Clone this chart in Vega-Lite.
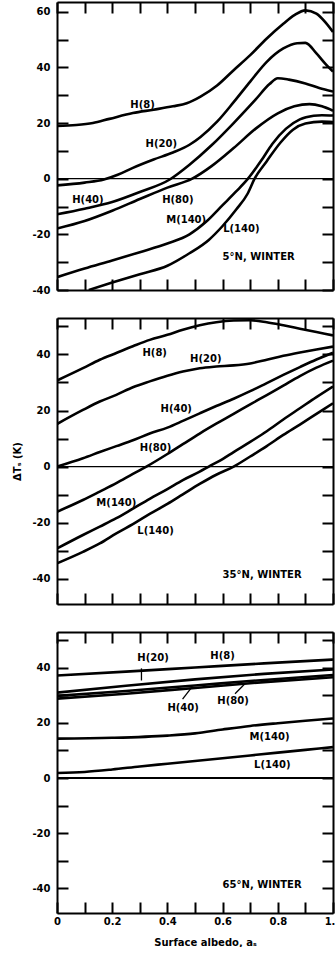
{
  "$schema": "https://vega.github.io/schema/vega-lite/v6.json",
  "background": "white",
  "padding": {"left": 12, "top": 1, "right": 0, "bottom": 0},
  "spacing": 28,
  "bounds": "flush",
  "config": {
    "view": {"stroke": null},
    "font": "DejaVu Sans",
    "axis": {
      "tickSize": -11, "tickWidth": 2, "tickColor": "black",
      "domainColor": "black", "domainWidth": 2, "grid": false,
      "labelFont": "DejaVu Sans", "labelFontWeight": "bold", "labelFontSize": 10, "labelColor": "black",
      "labelFlush": false, "labelOverlap": false,
      "titleFont": "DejaVu Sans", "titleFontWeight": "bold", "titleFontSize": 10, "titleColor": "black"
    }
  },
  "datasets": {
    "curves": [
      {"panel":"a","series":"H(8)","x":0,"y":19.0},{"panel":"a","series":"H(8)","x":0.07,"y":19.3},{"panel":"a","series":"H(8)","x":0.13,"y":20.0},{"panel":"a","series":"H(8)","x":0.19,"y":21.5},{"panel":"a","series":"H(8)","x":0.275,"y":23.6},{"panel":"a","series":"H(8)","x":0.35,"y":24.8},{"panel":"a","series":"H(8)","x":0.42,"y":26.0},{"panel":"a","series":"H(8)","x":0.47,"y":27.1},{"panel":"a","series":"H(8)","x":0.52,"y":29.5},{"panel":"a","series":"H(8)","x":0.58,"y":33.5},{"panel":"a","series":"H(8)","x":0.64,"y":39.0},{"panel":"a","series":"H(8)","x":0.70,"y":44.4},{"panel":"a","series":"H(8)","x":0.76,"y":50.4},{"panel":"a","series":"H(8)","x":0.82,"y":55.7},{"panel":"a","series":"H(8)","x":0.86,"y":58.8},{"panel":"a","series":"H(8)","x":0.90,"y":60.5},{"panel":"a","series":"H(8)","x":0.94,"y":59.3},{"panel":"a","series":"H(8)","x":0.975,"y":55.9},{"panel":"a","series":"H(8)","x":1.0,"y":52.7},
      {"panel":"a","series":"H(20)","x":0,"y":-2.4},{"panel":"a","series":"H(20)","x":0.1,"y":-1.4},{"panel":"a","series":"H(20)","x":0.17,"y":-0.3},{"panel":"a","series":"H(20)","x":0.22,"y":1.4},{"panel":"a","series":"H(20)","x":0.275,"y":3.9},{"panel":"a","series":"H(20)","x":0.35,"y":6.9},{"panel":"a","series":"H(20)","x":0.42,"y":9.4},{"panel":"a","series":"H(20)","x":0.48,"y":12.2},{"panel":"a","series":"H(20)","x":0.52,"y":15.0},{"panel":"a","series":"H(20)","x":0.58,"y":20.5},{"panel":"a","series":"H(20)","x":0.64,"y":27.5},{"panel":"a","series":"H(20)","x":0.70,"y":34.9},{"panel":"a","series":"H(20)","x":0.76,"y":42.0},{"panel":"a","series":"H(20)","x":0.82,"y":46.8},{"panel":"a","series":"H(20)","x":0.87,"y":48.7},{"panel":"a","series":"H(20)","x":0.90,"y":48.8},{"panel":"a","series":"H(20)","x":0.94,"y":45.0},{"panel":"a","series":"H(20)","x":0.975,"y":41.0},{"panel":"a","series":"H(20)","x":1.0,"y":38.5},
      {"panel":"a","series":"H(40)","x":0,"y":-12.8},{"panel":"a","series":"H(40)","x":0.1,"y":-10.8},{"panel":"a","series":"H(40)","x":0.2,"y":-8.4},{"panel":"a","series":"H(40)","x":0.3,"y":-4.8},{"panel":"a","series":"H(40)","x":0.41,"y":-0.2},{"panel":"a","series":"H(40)","x":0.48,"y":5.0},{"panel":"a","series":"H(40)","x":0.56,"y":12.0},{"panel":"a","series":"H(40)","x":0.64,"y":20.0},{"panel":"a","series":"H(40)","x":0.72,"y":28.5},{"panel":"a","series":"H(40)","x":0.77,"y":34.0},{"panel":"a","series":"H(40)","x":0.80,"y":36.1},{"panel":"a","series":"H(40)","x":0.84,"y":35.6},{"panel":"a","series":"H(40)","x":0.90,"y":34.2},{"panel":"a","series":"H(40)","x":0.95,"y":32.6},{"panel":"a","series":"H(40)","x":1.0,"y":31.3},
      {"panel":"a","series":"H(80)","x":0,"y":-17.9},{"panel":"a","series":"H(80)","x":0.1,"y":-15.2},{"panel":"a","series":"H(80)","x":0.2,"y":-11.5},{"panel":"a","series":"H(80)","x":0.3,"y":-7.3},{"panel":"a","series":"H(80)","x":0.4,"y":-3.2},{"panel":"a","series":"H(80)","x":0.49,"y":0.0},{"panel":"a","series":"H(80)","x":0.56,"y":4.5},{"panel":"a","series":"H(80)","x":0.64,"y":11.0},{"panel":"a","series":"H(80)","x":0.72,"y":18.0},{"panel":"a","series":"H(80)","x":0.80,"y":23.5},{"panel":"a","series":"H(80)","x":0.86,"y":26.0},{"panel":"a","series":"H(80)","x":0.915,"y":26.8},{"panel":"a","series":"H(80)","x":0.96,"y":26.0},{"panel":"a","series":"H(80)","x":1.0,"y":24.4},
      {"panel":"a","series":"M(140)","x":0,"y":-35.4},{"panel":"a","series":"M(140)","x":0.1,"y":-32.3},{"panel":"a","series":"M(140)","x":0.2,"y":-29.4},{"panel":"a","series":"M(140)","x":0.3,"y":-26.4},{"panel":"a","series":"M(140)","x":0.4,"y":-23.3},{"panel":"a","series":"M(140)","x":0.48,"y":-20.0},{"panel":"a","series":"M(140)","x":0.54,"y":-15.5},{"panel":"a","series":"M(140)","x":0.6,"y":-9.5},{"panel":"a","series":"M(140)","x":0.65,"y":-4.5},{"panel":"a","series":"M(140)","x":0.692,"y":0.0},{"panel":"a","series":"M(140)","x":0.74,"y":6.5},{"panel":"a","series":"M(140)","x":0.78,"y":12.5},{"panel":"a","series":"M(140)","x":0.83,"y":18.0},{"panel":"a","series":"M(140)","x":0.88,"y":21.3},{"panel":"a","series":"M(140)","x":0.93,"y":22.6},{"panel":"a","series":"M(140)","x":0.96,"y":22.8},{"panel":"a","series":"M(140)","x":1.0,"y":22.7},
      {"panel":"a","series":"L(140)","x":0.115,"y":-40.0},{"panel":"a","series":"L(140)","x":0.2,"y":-37.3},{"panel":"a","series":"L(140)","x":0.3,"y":-34.3},{"panel":"a","series":"L(140)","x":0.4,"y":-31.3},{"panel":"a","series":"L(140)","x":0.48,"y":-26.8},{"panel":"a","series":"L(140)","x":0.55,"y":-22.0},{"panel":"a","series":"L(140)","x":0.6,"y":-17.0},{"panel":"a","series":"L(140)","x":0.65,"y":-11.0},{"panel":"a","series":"L(140)","x":0.69,"y":-5.5},{"panel":"a","series":"L(140)","x":0.716,"y":0.0},{"panel":"a","series":"L(140)","x":0.76,"y":6.3},{"panel":"a","series":"L(140)","x":0.81,"y":13.0},{"panel":"a","series":"L(140)","x":0.855,"y":17.6},{"panel":"a","series":"L(140)","x":0.9,"y":19.8},{"panel":"a","series":"L(140)","x":0.96,"y":20.5},{"panel":"a","series":"L(140)","x":1.0,"y":20.4},

      {"panel":"b","series":"H(8)","x":0,"y":30.7},{"panel":"b","series":"H(8)","x":0.094,"y":35.1},{"panel":"b","series":"H(8)","x":0.155,"y":38.1},{"panel":"b","series":"H(8)","x":0.215,"y":40.5},{"panel":"b","series":"H(8)","x":0.275,"y":42.9},{"panel":"b","series":"H(8)","x":0.336,"y":45.2},{"panel":"b","series":"H(8)","x":0.40,"y":47.0},{"panel":"b","series":"H(8)","x":0.456,"y":48.8},{"panel":"b","series":"H(8)","x":0.517,"y":50.4},{"panel":"b","series":"H(8)","x":0.577,"y":51.5},{"panel":"b","series":"H(8)","x":0.64,"y":52.1},{"panel":"b","series":"H(8)","x":0.70,"y":52.2},{"panel":"b","series":"H(8)","x":0.76,"y":51.5},{"panel":"b","series":"H(8)","x":0.82,"y":50.4},{"panel":"b","series":"H(8)","x":0.88,"y":49.2},{"panel":"b","series":"H(8)","x":0.94,"y":48.0},{"panel":"b","series":"H(8)","x":1.0,"y":46.8},
      {"panel":"b","series":"H(20)","x":0,"y":15.2},{"panel":"b","series":"H(20)","x":0.094,"y":20.2},{"panel":"b","series":"H(20)","x":0.155,"y":23.2},{"panel":"b","series":"H(20)","x":0.215,"y":25.6},{"panel":"b","series":"H(20)","x":0.275,"y":28.3},{"panel":"b","series":"H(20)","x":0.336,"y":30.4},{"panel":"b","series":"H(20)","x":0.40,"y":32.4},{"panel":"b","series":"H(20)","x":0.456,"y":33.9},{"panel":"b","series":"H(20)","x":0.517,"y":35.1},{"panel":"b","series":"H(20)","x":0.577,"y":35.7},{"panel":"b","series":"H(20)","x":0.64,"y":36.1},{"panel":"b","series":"H(20)","x":0.70,"y":36.8},{"panel":"b","series":"H(20)","x":0.76,"y":38.1},{"panel":"b","series":"H(20)","x":0.82,"y":39.5},{"panel":"b","series":"H(20)","x":0.88,"y":40.7},{"panel":"b","series":"H(20)","x":0.94,"y":41.8},{"panel":"b","series":"H(20)","x":1.0,"y":42.8},
      {"panel":"b","series":"H(40)","x":0,"y":0.0},{"panel":"b","series":"H(40)","x":0.094,"y":3.0},{"panel":"b","series":"H(40)","x":0.155,"y":5.2},{"panel":"b","series":"H(40)","x":0.215,"y":7.3},{"panel":"b","series":"H(40)","x":0.275,"y":9.4},{"panel":"b","series":"H(40)","x":0.336,"y":11.8},{"panel":"b","series":"H(40)","x":0.40,"y":13.9},{"panel":"b","series":"H(40)","x":0.456,"y":16.3},{"panel":"b","series":"H(40)","x":0.517,"y":19.0},{"panel":"b","series":"H(40)","x":0.577,"y":21.6},{"panel":"b","series":"H(40)","x":0.64,"y":24.2},{"panel":"b","series":"H(40)","x":0.70,"y":26.9},{"panel":"b","series":"H(40)","x":0.76,"y":29.8},{"panel":"b","series":"H(40)","x":0.82,"y":32.7},{"panel":"b","series":"H(40)","x":0.88,"y":35.5},{"panel":"b","series":"H(40)","x":0.94,"y":38.2},{"panel":"b","series":"H(40)","x":1.0,"y":40.6},
      {"panel":"b","series":"H(80)","x":0,"y":-16.1},{"panel":"b","series":"H(80)","x":0.094,"y":-11.9},{"panel":"b","series":"H(80)","x":0.155,"y":-8.9},{"panel":"b","series":"H(80)","x":0.215,"y":-5.9},{"panel":"b","series":"H(80)","x":0.275,"y":-2.6},{"panel":"b","series":"H(80)","x":0.324,"y":0.0},{"panel":"b","series":"H(80)","x":0.40,"y":4.5},{"panel":"b","series":"H(80)","x":0.456,"y":8.0},{"panel":"b","series":"H(80)","x":0.517,"y":11.8},{"panel":"b","series":"H(80)","x":0.577,"y":15.3},{"panel":"b","series":"H(80)","x":0.64,"y":18.8},{"panel":"b","series":"H(80)","x":0.70,"y":22.2},{"panel":"b","series":"H(80)","x":0.76,"y":25.5},{"panel":"b","series":"H(80)","x":0.82,"y":28.9},{"panel":"b","series":"H(80)","x":0.88,"y":32.3},{"panel":"b","series":"H(80)","x":0.94,"y":35.3},{"panel":"b","series":"H(80)","x":1.0,"y":37.8},
      {"panel":"b","series":"M(140)","x":0,"y":-29.2},{"panel":"b","series":"M(140)","x":0.094,"y":-24.4},{"panel":"b","series":"M(140)","x":0.155,"y":-21.4},{"panel":"b","series":"M(140)","x":0.215,"y":-18.4},{"panel":"b","series":"M(140)","x":0.275,"y":-15.0},{"panel":"b","series":"M(140)","x":0.336,"y":-11.5},{"panel":"b","series":"M(140)","x":0.40,"y":-8.0},{"panel":"b","series":"M(140)","x":0.456,"y":-4.8},{"panel":"b","series":"M(140)","x":0.517,"y":-1.8},{"panel":"b","series":"M(140)","x":0.55,"y":0.0},{"panel":"b","series":"M(140)","x":0.60,"y":2.7},{"panel":"b","series":"M(140)","x":0.64,"y":5.2},{"panel":"b","series":"M(140)","x":0.70,"y":8.8},{"panel":"b","series":"M(140)","x":0.76,"y":12.6},{"panel":"b","series":"M(140)","x":0.82,"y":16.8},{"panel":"b","series":"M(140)","x":0.88,"y":20.8},{"panel":"b","series":"M(140)","x":0.94,"y":24.8},{"panel":"b","series":"M(140)","x":1.0,"y":28.6},
      {"panel":"b","series":"L(140)","x":0,"y":-34.5},{"panel":"b","series":"L(140)","x":0.094,"y":-30.4},{"panel":"b","series":"L(140)","x":0.155,"y":-27.4},{"panel":"b","series":"L(140)","x":0.215,"y":-23.8},{"panel":"b","series":"L(140)","x":0.275,"y":-20.5},{"panel":"b","series":"L(140)","x":0.336,"y":-16.9},{"panel":"b","series":"L(140)","x":0.40,"y":-13.3},{"panel":"b","series":"L(140)","x":0.456,"y":-9.9},{"panel":"b","series":"L(140)","x":0.517,"y":-6.2},{"panel":"b","series":"L(140)","x":0.577,"y":-2.9},{"panel":"b","series":"L(140)","x":0.64,"y":0.0},{"panel":"b","series":"L(140)","x":0.70,"y":3.6},{"panel":"b","series":"L(140)","x":0.76,"y":7.3},{"panel":"b","series":"L(140)","x":0.82,"y":11.3},{"panel":"b","series":"L(140)","x":0.88,"y":15.0},{"panel":"b","series":"L(140)","x":0.94,"y":18.8},{"panel":"b","series":"L(140)","x":1.0,"y":22.6},

      {"panel":"c","series":"H(8)","x":0,"y":37.2},{"panel":"c","series":"H(8)","x":0.25,"y":38.6},{"panel":"c","series":"H(8)","x":0.5,"y":40.1},{"panel":"c","series":"H(8)","x":0.75,"y":41.6},{"panel":"c","series":"H(8)","x":1.0,"y":43.0},
      {"panel":"c","series":"H(20)","x":0,"y":31.0},{"panel":"c","series":"H(20)","x":0.25,"y":33.5},{"panel":"c","series":"H(20)","x":0.5,"y":35.8},{"panel":"c","series":"H(20)","x":0.75,"y":37.8},{"panel":"c","series":"H(20)","x":1.0,"y":39.4},
      {"panel":"c","series":"H(40)","x":0,"y":29.8},{"panel":"c","series":"H(40)","x":0.25,"y":31.6},{"panel":"c","series":"H(40)","x":0.5,"y":33.6},{"panel":"c","series":"H(40)","x":0.75,"y":35.6},{"panel":"c","series":"H(40)","x":1.0,"y":37.4},
      {"panel":"c","series":"H(80)","x":0,"y":28.8},{"panel":"c","series":"H(80)","x":0.25,"y":30.6},{"panel":"c","series":"H(80)","x":0.5,"y":32.7},{"panel":"c","series":"H(80)","x":0.75,"y":34.8},{"panel":"c","series":"H(80)","x":1.0,"y":36.6},
      {"panel":"c","series":"M(140)","x":0,"y":14.3},{"panel":"c","series":"M(140)","x":0.2,"y":14.6},{"panel":"c","series":"M(140)","x":0.4,"y":15.4},{"panel":"c","series":"M(140)","x":0.5,"y":16.2},{"panel":"c","series":"M(140)","x":0.6,"y":17.6},{"panel":"c","series":"M(140)","x":0.7,"y":18.9},{"panel":"c","series":"M(140)","x":0.8,"y":19.9},{"panel":"c","series":"M(140)","x":0.9,"y":20.8},{"panel":"c","series":"M(140)","x":1.0,"y":21.6},
      {"panel":"c","series":"L(140)","x":0,"y":1.8},{"panel":"c","series":"L(140)","x":0.1,"y":2.2},{"panel":"c","series":"L(140)","x":0.2,"y":3.1},{"panel":"c","series":"L(140)","x":0.3,"y":4.2},{"panel":"c","series":"L(140)","x":0.4,"y":5.2},{"panel":"c","series":"L(140)","x":0.5,"y":6.2},{"panel":"c","series":"L(140)","x":0.6,"y":7.2},{"panel":"c","series":"L(140)","x":0.7,"y":8.2},{"panel":"c","series":"L(140)","x":0.8,"y":9.2},{"panel":"c","series":"L(140)","x":0.9,"y":10.2},{"panel":"c","series":"L(140)","x":1.0,"y":11.2}
    ],
    "labels": [
      {"panel":"a","text":"H(8)","x":0.31,"y":26.5},{"panel":"a","text":"H(20)","x":0.378,"y":12.3},{"panel":"a","text":"H(40)","x":0.112,"y":-7.5},{"panel":"a","text":"H(80)","x":0.438,"y":-7.5},{"panel":"a","text":"M(140)","x":0.468,"y":-14.9},{"panel":"a","text":"L(140)","x":0.668,"y":-18.2},
      {"panel":"b","text":"H(8)","x":0.354,"y":40.5},{"panel":"b","text":"H(20)","x":0.539,"y":38.3},{"panel":"b","text":"H(40)","x":0.432,"y":20.5},{"panel":"b","text":"H(80)","x":0.357,"y":6.7},{"panel":"b","text":"M(140)","x":0.215,"y":-12.9},{"panel":"b","text":"L(140)","x":0.357,"y":-22.9},
      {"panel":"c","text":"H(20)","x":0.348,"y":43.6},{"panel":"c","text":"H(8)","x":0.60,"y":44.2},{"panel":"c","text":"H(40)","x":0.457,"y":25.5},{"panel":"c","text":"H(80)","x":0.638,"y":27.9},{"panel":"c","text":"M(140)","x":0.77,"y":14.8},{"panel":"c","text":"L(140)","x":0.78,"y":4.6}
    ],
    "notes": [
      {"panel":"a","text":"5°N, WINTER","x":0.6,"y":-28.3},
      {"panel":"b","text":"35°N, WINTER","x":0.6,"y":-38.6},
      {"panel":"c","text":"65°N, WINTER","x":0.6,"y":-38.9}
    ],
    "pointers": [
      {"panel":"c","x":0.306,"x2":0.306,"y":39.8,"y2":35.4},
      {"panel":"c","x":0.455,"x2":0.49,"y":28.6,"y2":33.2},
      {"panel":"c","x":0.645,"x2":0.68,"y":30.6,"y2":34.1}
    ],
    "zero": [{"y":0}]
  },
  "vconcat": [
    {
      "width": 276, "height": 288,
      "resolve": {"axis": {"x": "independent", "y": "independent"}},
      "layer": [
        {
          "data": {"name": "curves"},
          "transform": [{"filter": "datum.panel == 'a'"}],
          "mark": {"type": "line", "color": "black", "strokeWidth": 2.6, "interpolate": "monotone", "clip": true},
          "encoding": {
            "x": {"field": "x", "type": "quantitative", "scale": {"domain": [0, 1], "nice": false, "zero": false},
                  "axis": {"orient": "bottom", "values": [0,0.1,0.2,0.3,0.4,0.5,0.6,0.7,0.8,0.9,1.0], "labels": false, "title": null}},
            "y": {"field": "y", "type": "quantitative", "scale": {"domain": [-40, 63.5], "nice": false, "zero": false},
                  "axis": {"orient": "left", "values": [-40,-30,-20,-10,0,10,20,30,40,50,60], "labelExpr": "datum.value % 20 == 0 ? '' + datum.value : ''", "labelPadding": 18, "title": null}},
            "detail": {"field": "series"}
          }
        },
        {
          "data": {"name": "zero"},
          "mark": {"type": "rule", "color": "black", "strokeWidth": 1.3},
          "encoding": {"y": {"field": "y", "type": "quantitative", "axis": null}}
        },
        {
          "data": {"name": "labels"},
          "transform": [{"filter": "datum.panel == 'a'"}],
          "mark": {"type": "text", "font": "DejaVu Sans", "fontWeight": "bold", "fontSize": 10, "color": "black", "align": "center", "baseline": "middle"},
          "encoding": {
            "x": {"field": "x", "type": "quantitative", "axis": {"orient": "top", "values": [0,0.1,0.2,0.3,0.4,0.5,0.6,0.7,0.8,0.9,1.0], "labels": false, "title": null}},
            "y": {"field": "y", "type": "quantitative", "axis": {"orient": "right", "values": [-40,-30,-20,-10,0,10,20,30,40,50,60], "labels": false, "title": null}},
            "text": {"field": "text"}
          }
        },
        {
          "data": {"name": "notes"},
          "transform": [{"filter": "datum.panel == 'a'"}],
          "mark": {"type": "text", "font": "DejaVu Sans", "fontWeight": "bold", "fontSize": 10, "color": "black", "align": "left", "baseline": "middle"},
          "encoding": {
            "x": {"field": "x", "type": "quantitative", "axis": null},
            "y": {"field": "y", "type": "quantitative", "axis": null},
            "text": {"field": "text"}
          }
        }
      ]
    },
    {
      "width": 276, "height": 286,
      "resolve": {"axis": {"x": "independent", "y": "independent"}},
      "layer": [
        {
          "data": {"name": "curves"},
          "transform": [{"filter": "datum.panel == 'b'"}],
          "mark": {"type": "line", "color": "black", "strokeWidth": 2.6, "interpolate": "monotone", "clip": true},
          "encoding": {
            "x": {"field": "x", "type": "quantitative", "scale": {"domain": [0, 1], "nice": false, "zero": false},
                  "axis": {"orient": "bottom", "values": [0,0.1,0.2,0.3,0.4,0.5,0.6,0.7,0.8,0.9,1.0], "labels": false, "title": null}},
            "y": {"field": "y", "type": "quantitative", "scale": {"domain": [-49, 53], "nice": false, "zero": false},
                  "axis": {"orient": "left", "values": [-40,-30,-20,-10,0,10,20,30,40,50], "labelExpr": "datum.value % 20 == 0 ? '' + datum.value : ''", "labelPadding": 18, "title": "ΔTₛ (K)", "titlePadding": 9}},
            "detail": {"field": "series"}
          }
        },
        {
          "data": {"name": "zero"},
          "mark": {"type": "rule", "color": "black", "strokeWidth": 1.3},
          "encoding": {"y": {"field": "y", "type": "quantitative", "axis": null}}
        },
        {
          "data": {"name": "labels"},
          "transform": [{"filter": "datum.panel == 'b'"}],
          "mark": {"type": "text", "font": "DejaVu Sans", "fontWeight": "bold", "fontSize": 10, "color": "black", "align": "center", "baseline": "middle"},
          "encoding": {
            "x": {"field": "x", "type": "quantitative", "axis": {"orient": "top", "values": [0,0.1,0.2,0.3,0.4,0.5,0.6,0.7,0.8,0.9,1.0], "labels": false, "title": null}},
            "y": {"field": "y", "type": "quantitative", "axis": {"orient": "right", "values": [-40,-30,-20,-10,0,10,20,30,40,50], "labels": false, "title": null}},
            "text": {"field": "text"}
          }
        },
        {
          "data": {"name": "notes"},
          "transform": [{"filter": "datum.panel == 'b'"}],
          "mark": {"type": "text", "font": "DejaVu Sans", "fontWeight": "bold", "fontSize": 10, "color": "black", "align": "left", "baseline": "middle"},
          "encoding": {
            "x": {"field": "x", "type": "quantitative", "axis": null},
            "y": {"field": "y", "type": "quantitative", "axis": null},
            "text": {"field": "text"}
          }
        }
      ]
    },
    {
      "width": 276, "height": 281,
      "resolve": {"axis": {"x": "independent", "y": "independent"}},
      "layer": [
        {
          "data": {"name": "curves"},
          "transform": [{"filter": "datum.panel == 'c'"}],
          "mark": {"type": "line", "color": "black", "strokeWidth": 2.6, "interpolate": "monotone", "clip": true},
          "encoding": {
            "x": {"field": "x", "type": "quantitative", "scale": {"domain": [0, 1], "nice": false, "zero": false},
                  "axis": {"orient": "bottom", "values": [0,0.1,0.2,0.3,0.4,0.5,0.6,0.7,0.8,0.9,1.0], "labelExpr": "round(datum.value * 10) % 2 == 0 ? (datum.value == 0 ? '0' : format(datum.value, '.1f')) : ''", "labelPadding": 14, "title": "Surface albedo, aₛ", "titlePadding": 11, "titleX": 148}},
            "y": {"field": "y", "type": "quantitative", "scale": {"domain": [-49, 53], "nice": false, "zero": false},
                  "axis": {"orient": "left", "values": [-40,-30,-20,-10,0,10,20,30,40,50], "labelExpr": "datum.value % 20 == 0 ? '' + datum.value : ''", "labelPadding": 18, "title": null}},
            "detail": {"field": "series"}
          }
        },
        {
          "data": {"name": "zero"},
          "mark": {"type": "rule", "color": "black", "strokeWidth": 1.8},
          "encoding": {"y": {"field": "y", "type": "quantitative", "axis": null}}
        },
        {
          "data": {"name": "pointers"},
          "mark": {"type": "rule", "color": "black", "strokeWidth": 1.3},
          "encoding": {
            "x": {"field": "x", "type": "quantitative", "axis": null},
            "x2": {"field": "x2"},
            "y": {"field": "y", "type": "quantitative", "axis": null},
            "y2": {"field": "y2"}
          }
        },
        {
          "data": {"name": "labels"},
          "transform": [{"filter": "datum.panel == 'c'"}],
          "mark": {"type": "text", "font": "DejaVu Sans", "fontWeight": "bold", "fontSize": 10, "color": "black", "align": "center", "baseline": "middle"},
          "encoding": {
            "x": {"field": "x", "type": "quantitative", "axis": {"orient": "top", "values": [0,0.1,0.2,0.3,0.4,0.5,0.6,0.7,0.8,0.9,1.0], "labels": false, "title": null}},
            "y": {"field": "y", "type": "quantitative", "axis": {"orient": "right", "values": [-40,-30,-20,-10,0,10,20,30,40,50], "labels": false, "title": null}},
            "text": {"field": "text"}
          }
        },
        {
          "data": {"name": "notes"},
          "transform": [{"filter": "datum.panel == 'c'"}],
          "mark": {"type": "text", "font": "DejaVu Sans", "fontWeight": "bold", "fontSize": 10, "color": "black", "align": "left", "baseline": "middle"},
          "encoding": {
            "x": {"field": "x", "type": "quantitative", "axis": null},
            "y": {"field": "y", "type": "quantitative", "axis": null},
            "text": {"field": "text"}
          }
        }
      ]
    }
  ]
}
